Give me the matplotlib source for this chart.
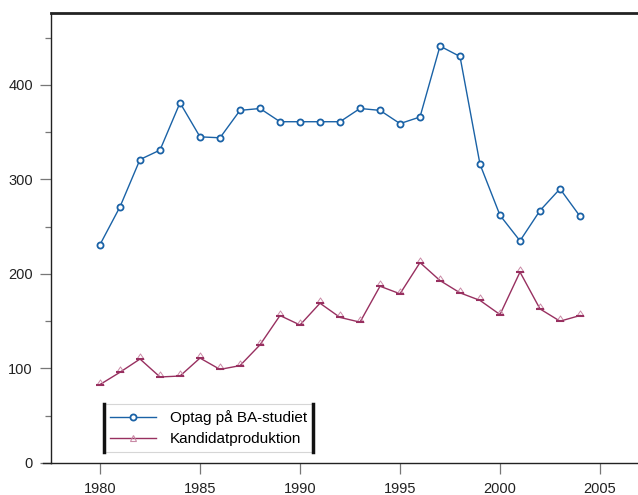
import matplotlib
matplotlib.use("Agg")
import matplotlib.pyplot as plt
from matplotlib.path import Path
from matplotlib.lines import Line2D

years = list(range(1980, 2005))
optag = [231, 271, 321, 331, 381, 345, 344, 373, 375, 361, 361, 361, 361,
         375, 373, 359, 366, 441, 430, 316, 262, 235, 267, 290, 261]
kandidat = [83, 96, 110, 91, 92, 111, 99, 103, 125, 156, 146, 169, 154,
            149, 187, 179, 212, 193, 180, 172, 157, 202, 163, 150, 156]

x_ticks = [1980, 1985, 1990, 1995, 2000, 2005]
y_ticks = [0, 100, 200, 300, 400]
y_minor = [50, 150, 250, 350, 450]
labels = ["Optag på BA-studiet", "Kandidatproduktion"]

blue = "#1a62a6"
maroon = "#983060"

plt.rcParams['font.family'] = ['Liberation Sans', 'DejaVu Sans']

fig = plt.figure(figsize=(6.38, 4.95), dpi=100)
ax = fig.add_axes([51/638, 1 - 463/495, 587/638, (463 - 13)/495])

# triangle marker with base at data point
tri = Path([(-0.5, 0), (0.5, 0), (0, 0.75), (-0.5, 0)],
           [Path.MOVETO, Path.LINETO, Path.LINETO, Path.CLOSEPOLY])

ax.plot(years, optag, color=blue, lw=1.0, marker='o', ms=4.4,
        mfc='white', mec=blue, mew=1.3, zorder=3)
ax.plot(years, kandidat, color=maroon, lw=1.0, zorder=3)
ax.plot(years, kandidat, ls='none', marker=tri, ms=8, mfc='none',
        mec='#c98aa6', mew=0.7, zorder=4)
ax.plot(years, kandidat, ls='none', marker='_', ms=5.5, mec=maroon, mew=1.5, zorder=4)

ax.set_xlim(1977.55, 2006.9)
ax.set_ylim(0, 476)
ax.set_xticks(x_ticks)
ax.set_yticks(y_ticks)
ax.set_yticks(y_minor, minor=True)

ax.spines['right'].set_visible(False)
ax.spines['top'].set_linewidth(2.0)
ax.spines['top'].set_color('#222222')
ax.spines['left'].set_linewidth(1.0)
ax.spines['left'].set_color('#222222')
ax.spines['bottom'].set_linewidth(1.0)
ax.spines['bottom'].set_color('#222222')

ax.tick_params(axis='both', which='major', direction='out', length=8,
               width=0.9, color='#777777', labelsize=10.5, labelcolor='#222222')
ax.tick_params(axis='y', which='minor', direction='out', length=4,
               width=0.9, color='#777777')
ax.tick_params(axis='x', pad=6)
ax.tick_params(axis='y', pad=5)

# bottom axis line extends a little left of the y-axis
fig.add_artist(Line2D([43/638, 51/638], [1 - 463/495, 1 - 463/495],
                      color='#222222', lw=1.0, transform=fig.transFigure))

h1 = Line2D([], [], color=blue, lw=1.0, marker='o', ms=4.4, mfc='white', mec=blue, mew=1.3)
h2 = Line2D([], [], color=maroon, lw=1.0, marker='^', ms=4.5, mfc='none', mec='#c98aa6', mew=0.8)
leg = ax.legend([h1, h2], labels, loc='lower left',
                bbox_to_anchor=((104 - 51)/587, (463 - 452)/450),
                frameon=True, fontsize=11, handlelength=3.0,
                borderpad=0.4, labelspacing=0.45, handletextpad=0.9,
                fancybox=False, borderaxespad=0)
fr = leg.get_frame()
fr.set_edgecolor('#cccccc')
fr.set_linewidth(0.8)

fig.canvas.draw()
bb = leg.get_window_extent().transformed(fig.transFigure.inverted())
for xx in (bb.x0, bb.x1):
    fig.add_artist(Line2D([xx, xx], [bb.y0, bb.y1], color='#111111', lw=2.5,
                          transform=fig.transFigure))

fig.savefig("out.png", dpi=100)
